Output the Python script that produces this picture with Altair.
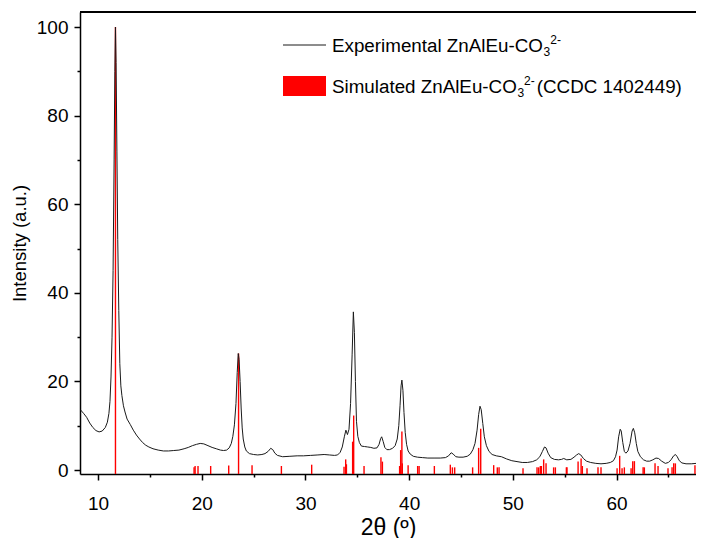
import altair as alt
import pandas as pd

# Experimental XRD pattern (2theta, intensity)
exp_2theta = [8.3, 8.6, 8.9, 9.2, 9.5, 9.8, 10.1, 10.4, 10.7, 10.9, 11.05, 11.15, 11.25, 11.35, 11.45,
              11.55, 11.62, 11.68, 11.74, 11.82, 11.9, 12.0, 12.1, 12.2, 12.3, 12.45, 12.6, 12.8, 13.1,
              13.4, 13.7, 14.0, 14.3, 14.6, 14.9, 15.3, 15.8, 16.3, 16.8, 17.3, 17.8, 18.3, 18.7, 19.1,
              19.5, 19.85, 20.2, 20.6, 21.0, 21.4, 21.8, 22.1, 22.4, 22.65, 22.85, 23.0, 23.15, 23.3,
              23.42, 23.52, 23.6, 23.7, 23.8, 23.9, 24.0, 24.15, 24.3, 24.6, 25.0, 25.4, 25.8, 26.1,
              26.4, 26.65, 26.85, 27.05, 27.3, 27.8, 28.5, 29.2, 29.8, 30.5, 31.2, 31.8, 32.3, 32.8,
              33.1, 33.35, 33.55, 33.75, 33.9, 34.05, 34.2, 34.35, 34.5, 34.62, 34.72, 34.82, 34.92,
              35.05, 35.2, 35.4, 35.7, 36.0, 36.3, 36.6, 36.9, 37.1, 37.25, 37.35, 37.5, 37.65, 37.85,
              38.1, 38.4, 38.65, 38.85, 39.0, 39.12, 39.22, 39.3, 39.4, 39.5, 39.62, 39.75, 39.9, 40.1,
              40.4, 40.8, 41.3, 41.8, 42.4, 43.0, 43.5, 43.8, 44.05, 44.25, 44.5, 44.8, 45.2, 45.6,
              45.9, 46.15, 46.35, 46.55, 46.7, 46.83, 46.95, 47.1, 47.25, 47.45, 47.7, 48.0, 48.4,
              48.9, 49.4, 49.9, 50.4, 50.9, 51.4, 51.9, 52.3, 52.6, 52.85, 53.05, 53.2, 53.4, 53.65,
              54.0, 54.4, 54.7, 54.9, 55.2, 55.6, 55.9, 56.15, 56.35, 56.55, 56.8, 57.1, 57.5, 58.0,
              58.5, 59.0, 59.4, 59.7, 59.9, 60.05, 60.2, 60.35, 60.45, 60.6, 60.75, 60.9, 61.1, 61.3,
              61.5, 61.62, 61.75, 61.9, 62.05, 62.3, 62.6, 62.9, 63.2, 63.5, 63.8, 64.05, 64.35, 64.7,
              65.0, 65.25, 65.5, 65.68, 65.85, 66.05, 66.3, 66.7, 67.2, 67.7, 68.0, 68.35]
exp_intensity = [13.6, 12.8, 11.9, 10.6, 9.6, 8.9, 8.6, 8.8, 9.6, 10.8, 12.8, 15.5, 21, 30, 45,
                 70, 90, 100, 92, 72, 52, 36, 24, 19, 16.8, 14.5, 13.1, 11.5, 10.3,
                 9.0, 7.9, 7.0, 6.2, 5.6, 5.2, 4.8, 4.5, 4.3, 4.3, 4.4, 4.5, 4.8, 5.1, 5.5,
                 5.8, 6.0, 5.9, 5.5, 5.1, 4.8, 4.5, 4.4, 4.5, 5.0, 6.0, 7.6, 10.2, 15,
                 22, 26.3, 25, 20, 14, 9.5, 7, 5.2, 4.3, 3.7, 3.5, 3.4, 3.5, 3.7,
                 4.2, 4.9, 4.6, 3.8, 3.3, 3.0, 3.1, 3.2, 3.2, 3.3, 3.4, 3.5, 3.4, 3.3,
                 3.4, 4.0, 5.2, 7.5, 9.0, 8.0, 9.2, 15, 26, 35.7, 31, 20, 11,
                 7.6, 6.2, 5.4, 5.3, 5.2, 5.1, 4.9, 5.0, 5.8, 7.1, 7.5, 6.4, 5.1, 4.6,
                 4.6, 4.9, 5.5, 7.0, 10, 14.5, 19, 20.3, 18, 13, 8.5, 5.8, 4.3, 3.6,
                 3.1, 2.9, 2.8, 2.7, 2.7, 2.7, 2.8, 3.2, 3.9, 3.6, 3.0, 2.9, 2.9, 3.1,
                 3.6, 4.6, 6.0, 9.0, 12.5, 14.4, 13.6, 10.5, 7.5, 5.5, 4.2, 3.5, 3.2,
                 3.0, 2.5, 2.1, 1.9, 1.7, 1.7, 1.9, 2.3, 3.0, 4.2, 5.2, 5.0, 3.8, 2.8,
                 2.4, 2.3, 2.4, 2.6, 2.3, 2.4, 2.9, 3.4, 3.7, 3.4, 2.6, 2.0, 1.7, 1.5,
                 1.4, 1.5, 1.7, 2.1, 3.0, 4.5, 7.5, 9.2, 8.8, 6.2, 4.2, 3.8, 4.3, 6.0,
                 8.8, 9.4, 8.4, 6.0, 4.2, 3.0, 2.3, 2.0, 2.0, 2.3, 2.7, 2.6, 2.0, 1.5,
                 1.7, 2.3, 3.2, 3.5, 3.0, 2.1, 1.6, 1.4, 1.4, 1.5, 1.4, 1.2]

# Simulated reflections (CCDC 1402449)
sim_2theta = [11.68, 19.26, 19.36, 19.64, 20.86, 22.6, 23.55, 24.85, 27.68, 30.6, 33.72, 33.88, 33.95,
              34.55, 34.65, 35.65, 37.28, 37.42, 39.08, 39.18, 39.3, 39.34, 39.9, 40.82, 40.96, 42.43,
              43.97, 44.17, 44.39, 46.12, 46.7, 46.9, 48.15, 48.5, 48.67, 50.98, 52.33, 52.49, 52.65,
              52.75, 52.97, 53.2, 53.93, 54.1, 55.16, 55.22, 56.29, 56.58, 56.7, 57.15, 58.21, 58.5,
              60.05, 60.3, 60.53, 60.75, 61.4, 61.56, 61.72, 62.56, 62.68, 63.71, 64.0, 64.96, 65.35,
              65.51, 65.67, 67.56, 67.76, 67.92, 68.25]
sim_intensity = [100, 0.6, 0.9, 0.9, 0.9, 1.0, 26.3, 1.1, 0.9, 1.2, 0.75, 2.4, 1.3,
                 6.4, 12.3, 0.9, 2.9, 1.9, 0.9, 4.5, 8.7, 1.5, 1.1, 0.9, 0.9, 0.9,
                 1.2, 0.6, 0.6, 0.6, 5.0, 9.3, 1.1, 0.6, 0.6, 0.4, 0.6, 0.6, 0.9,
                 0.9, 2.4, 1.5, 0.6, 0.6, 0.6, 0.6, 1.9, 2.6, 0.9, 0.4, 0.6, 0.6,
                 0.4, 3.2, 0.4, 0.6, 0.4, 2.0, 2.0, 0.6, 0.6, 1.5, 0.9, 0.4, 0.6,
                 1.5, 1.5, 1.1, 1.1, 0.6, 0.5]

# Legend texts (main part, subscript, superscript, tail)
leg1_parts = ["Experimental ZnAlEu-CO", "3", "2-", ""]
leg2_parts = ["Simulated ZnAlEu-CO", "3", "2-", " (CCDC 1402449)"]

W, H = 616, 462
FONT = "Liberation Sans"
FS = 18.8
FS_SMALL = 12

exp_df = pd.DataFrame({"t": exp_2theta, "i": exp_intensity})
sim_df = pd.DataFrame({"t": sim_2theta, "i": sim_intensity})

xscale = alt.Scale(domain=[8.26, 67.66], nice=False, zero=False)
yscale = alt.Scale(domain=[-0.9, 103.4], nice=False, zero=False)

xaxis = alt.Axis(
    title="2θ (º)", values=list(range(10, 70, 5)),
    labelExpr="datum.value % 10 === 0 ? datum.label : ''",
    tickSize={"condition": {"test": "datum.value % 10 === 0", "value": 6}, "value": 3},
    grid=False, titleFontSize=23, titleFont=FONT, titleFontWeight="normal",
    labelFontSize=19, labelFont=FONT, labelPadding=14, titlePadding=3,
    domainColor="black", domainWidth=1.5, tickColor="black", tickWidth=1.5,
    labelColor="black", titleColor="black", labelFlush=False)
yaxis = alt.Axis(
    title="Intensity (a.u.)", values=list(range(0, 101, 10)),
    labelExpr="datum.value % 20 === 0 ? datum.label : ''",
    tickSize={"condition": {"test": "datum.value % 20 === 0", "value": 6}, "value": 3},
    grid=False, titleFontSize=18.5, titleFont=FONT, titleFontWeight="normal",
    labelFontSize=19, labelFont=FONT, labelPadding=6, titlePadding=7,
    domainColor="black", domainWidth=1.5, tickColor="black", tickWidth=1.5,
    labelColor="black", titleColor="black")

sticks = alt.Chart(sim_df).mark_rule(color="#ff0000", strokeWidth=1.4, clip=True).encode(
    x=alt.X("t:Q", scale=xscale, axis=xaxis),
    y=alt.Y("i:Q", scale=yscale, axis=yaxis),
    y2=alt.value(H),
)

line = alt.Chart(exp_df).mark_line(color="#1a1a1a", strokeWidth=1, clip=True).encode(
    x=alt.X("t:Q", scale=xscale),
    y=alt.Y("i:Q", scale=yscale),
)

one = alt.Data(values=[{"k": 0}])
top_border = alt.Chart(one).mark_rule(color="black", strokeWidth=1.8).encode(
    x=alt.value(0), x2=alt.value(W), y=alt.value(0))
leg_line = alt.Chart(one).mark_rule(color="#1a1a1a", strokeWidth=1).encode(
    x=alt.value(203), x2=alt.value(246), y=alt.value(33))
leg_rect = alt.Chart(one).mark_rect(color="#ff0000").encode(
    x=alt.value(203), x2=alt.value(246), y=alt.value(64), y2=alt.value(84))


def txt(s, x, y, size):
    return alt.Chart(alt.Data(values=[{"s": s}])).mark_text(
        align="left", baseline="alphabetic", font=FONT, fontSize=size, color="black"
    ).encode(x=alt.value(x), y=alt.value(y), text="s:N")


# character advance widths of Arial / Liberation Sans (per 1000 em)
ADV = {c: 556 for c in "0123456789abdeghnopqu"}
ADV.update({"E": 667, "x": 500, "r": 333, "i": 222, "m": 833, "t": 278, "l": 222, " ": 278,
            "Z": 611, "A": 667, "-": 333, "C": 722, "O": 778, "S": 667, "D": 722,
            "(": 333, ")": 333, "s": 500, "y": 500, "c": 500})


def width(s, size):
    return sum(ADV.get(c, 556) for c in s) * size / 1000.0


layers = [sticks, line, top_border, leg_line, leg_rect]
for parts, base in ((leg1_parts, 39.8), (leg2_parts, 80.8)):
    x0 = 252
    main, sub, sup, tail = parts
    layers.append(txt(main, x0, base, FS))
    xs = x0 + width(main, FS) + 0.5
    layers.append(txt(sub, xs, base + 4, FS_SMALL))
    xp = xs + width(sub, FS_SMALL)
    layers.append(txt(sup, xp, base - 8, FS_SMALL))
    if tail:
        layers.append(txt(tail, xp + width(sup, FS_SMALL) + 2, base, FS))

chart = alt.layer(*layers).properties(
    width=W, height=H, autosize="none",
    padding={"left": 72, "top": 4, "right": 0, "bottom": 64},
).configure_view(stroke=None)

chart.save("out.html", embed_options={"renderer": "svg", "actions": False})
